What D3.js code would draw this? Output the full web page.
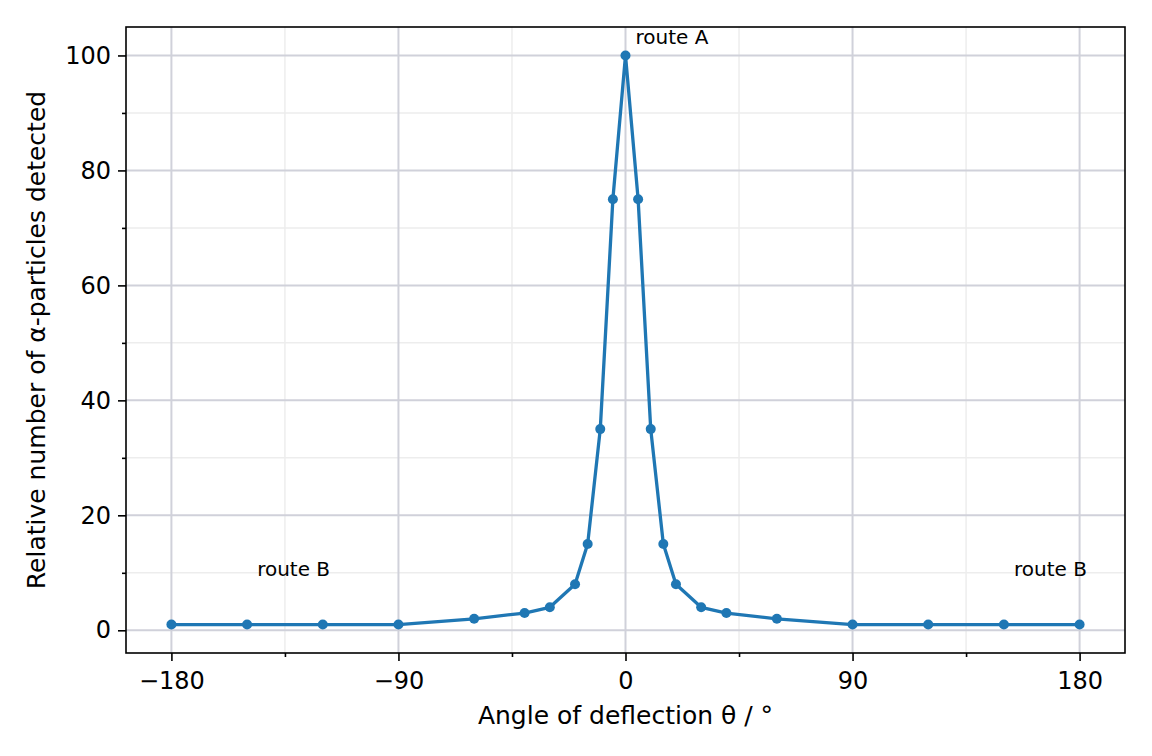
<!DOCTYPE html>
<html>
<head>
<meta charset="utf-8">
<script src="https://cdn.jsdelivr.net/npm/d3@7/dist/d3.min.js"></script>
<style>
  body { margin: 0; background: #fff; }
  svg { display: block; font-family: "DejaVu Sans", sans-serif; }
</style>
</head>
<body>
<svg id="chart" width="1152" height="756"></svg>
<script>
// data
const angles = [-180, -150, -120, -90, -60, -40, -30, -20, -15, -10, -5, 0,
  5, 10, 15, 20, 30, 40, 60, 90, 120, 150, 180];
const counts = [1, 1, 1, 1, 2, 3, 4, 8, 15, 35, 75, 100,
  75, 35, 15, 8, 4, 3, 2, 1, 1, 1, 1];
const xTicks = [-180, -90, 0, 90, 180];
const xMinor = [-135, -45, 45, 135];
const yTicks = [0, 20, 40, 60, 80, 100];
const yMinor = [10, 30, 50, 70, 90];
const notes = [
  { text: "route A", x: 4, y: 102 },
  { text: "route B", x: -146, y: 9.5 },
  { text: "route B", x: 154, y: 9.5 }
];

const svg = d3.select("#chart");
const margin = { top: 27, right: 27, bottom: 103, left: 126 };
const w = 1152 - margin.left - margin.right;
const h = 756 - margin.top - margin.bottom;

const x = d3.scaleLinear().domain([-198, 198]).range([0, w]);
const y = d3.scaleLinear().domain([-3.95, 104.95]).range([h, 0]);

const g = svg.append("g").attr("transform", `translate(${margin.left},${margin.top})`);

// minor grid
g.selectAll(".vminor").data(xMinor).enter().append("line")
  .attr("x1", d => x(d)).attr("x2", d => x(d)).attr("y1", 0).attr("y2", h)
  .attr("stroke", "#ededed").attr("stroke-width", 1.5);
g.selectAll(".hminor").data(yMinor).enter().append("line")
  .attr("y1", d => y(d)).attr("y2", d => y(d)).attr("x1", 0).attr("x2", w)
  .attr("stroke", "#ededed").attr("stroke-width", 1.5);

// major grid
g.selectAll(".vmajor").data(xTicks).enter().append("line")
  .attr("x1", d => x(d)).attr("x2", d => x(d)).attr("y1", 0).attr("y2", h)
  .attr("stroke", "#d0d1da").attr("stroke-width", 2);
g.selectAll(".hmajor").data(yTicks).enter().append("line")
  .attr("y1", d => y(d)).attr("y2", d => y(d)).attr("x1", 0).attr("x2", w)
  .attr("stroke", "#d0d1da").attr("stroke-width", 2);

// axes
const xAxis = g.append("g").attr("transform", `translate(0,${h})`)
  .call(d3.axisBottom(x).tickValues(xTicks).tickSize(8).tickPadding(11)
    .tickFormat(d => d < 0 ? "\u2212" + Math.abs(d) : d));
const xAxisMinor = g.append("g").attr("transform", `translate(0,${h})`)
  .call(d3.axisBottom(x).tickValues(xMinor).tickSize(4).tickFormat(""));
const yAxis = g.append("g")
  .call(d3.axisLeft(y).tickValues(yTicks).tickSize(8).tickPadding(7));
const yAxisMinor = g.append("g")
  .call(d3.axisLeft(y).tickValues(yMinor).tickSize(4).tickFormat(""));

[xAxis, xAxisMinor, yAxis, yAxisMinor].forEach(a => {
  a.select(".domain").remove();
  a.selectAll(".tick line").attr("stroke", "#000").attr("stroke-width", 1.6);
  a.selectAll(".tick text").attr("fill", "#000")
    .style("font-size", "24px").style("font-family", "DejaVu Sans");
});

// frame
g.append("rect").attr("width", w).attr("height", h)
  .attr("fill", "none").attr("stroke", "#000").attr("stroke-width", 1.6);

// line + markers
const pts = angles.map((a, i) => ({ a, c: counts[i] }));
g.append("path").datum(pts)
  .attr("fill", "none").attr("stroke", "#1f77b4").attr("stroke-width", 3.3)
  .attr("stroke-linejoin", "round")
  .attr("d", d3.line().x(d => x(d.a)).y(d => y(d.c)));
g.selectAll("circle").data(pts).enter().append("circle")
  .attr("cx", d => x(d.a)).attr("cy", d => y(d.c)).attr("r", 5)
  .attr("fill", "#1f77b4");

// annotations
g.selectAll(".note").data(notes).enter().append("text")
  .attr("x", d => x(d.x)).attr("y", d => y(d.y))
  .style("font-size", "20px").attr("fill", "#000")
  .text(d => d.text);

// axis labels
svg.append("text")
  .attr("x", margin.left + w / 2).attr("y", 724)
  .attr("text-anchor", "middle").style("font-size", "25px")
  .text("Angle of deflection \u03b8 / \u00b0");
svg.append("text")
  .attr("transform", `translate(45,${margin.top + h / 2}) rotate(-90)`)
  .attr("text-anchor", "middle").style("font-size", "25px")
  .text("Relative number of \u03b1-particles detected");
</script>
</body>
</html>
